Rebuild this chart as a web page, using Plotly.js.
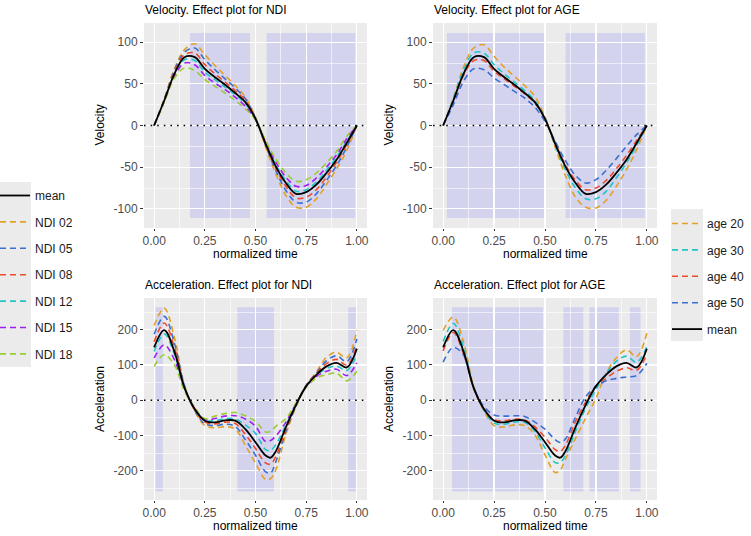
<!DOCTYPE html>
<html>
<head>
<meta charset="utf-8">
<script src="https://cdn.plot.ly/plotly-3.0.1.min.js"></script>
<style>
  html, body { margin: 0; padding: 0; background: #ffffff; }
  #chart { width: 751px; height: 536px; }
</style>
</head>
<body>
<div id="chart"></div>
<script>
// ---- sampling grids (normalized time) ----
const velTime = [0, 0.05, 0.1, 0.15, 0.2, 0.25, 0.3, 0.35, 0.4, 0.45, 0.5,
                 0.55, 0.6, 0.65, 0.7, 0.75, 0.8, 0.85, 0.9, 0.95, 1];
const accTime = [0, 0.05, 0.1, 0.15, 0.2, 0.25, 0.3, 0.35, 0.4, 0.45, 0.5,
                 0.55, 0.575, 0.6, 0.65, 0.7, 0.75, 0.8, 0.85, 0.9, 0.95, 1];

// ---- velocity: mean curve and NDI effect curves ----
const velMean  = [0, 30, 62, 82, 82, 68, 58, 49, 39, 28, 8, -22, -49, -69, -82, -80, -71, -57, -41, -21, 0];
const velNdi02 = [0, 32, 68, 91, 98, 85, 72, 60, 48, 34, 10, -26, -58, -84, -98, -98, -88, -71, -52, -30, 0];
const velNdi05 = [0, 31, 66, 88, 93, 79, 67, 56, 45, 32, 9, -24, -54, -78, -92, -92, -82, -66, -48, -26, 0];
const velNdi08 = [0, 31, 64, 85, 87, 73, 62, 52, 42, 30, 8, -23, -51, -73, -87, -86, -77, -62, -44, -23, 0];
const velNdi12 = [0, 30, 61, 79, 78, 64, 55, 46, 37, 26, 8, -21, -47, -66, -79, -77, -68, -54, -38, -19, 0];
const velNdi15 = [0, 29, 59, 75, 73, 60, 51, 43, 34, 23, 7, -20, -44, -62, -73, -72, -63, -50, -35, -16, 0];
const velNdi18 = [0, 28, 57, 69, 66, 55, 47, 39, 30, 20, 7, -18, -40, -57, -67, -65, -57, -45, -31, -13, 0];

// ---- velocity: AGE effect curves ----
const velAge20 = [0, 33, 70, 93, 97, 83, 70, 59, 48, 35, 10, -26, -60, -86, -98, -99, -90, -73, -53, -29, 0];
const velAge30 = [0, 32, 66, 87, 87, 73, 62, 52, 42, 30, 9, -24, -53, -75, -88, -88, -79, -63, -45, -24, 0];
const velAge40 = [0, 29, 60, 78, 78, 65, 56, 47, 38, 27, 8, -21, -47, -66, -77, -75, -66, -52, -36, -18, 0];
const velAge50 = [0, 25, 53, 68, 67, 57, 49, 41, 33, 22, 5, -19, -42, -60, -69, -65, -54, -40, -25, -11, 0];

// ---- acceleration: mean curve and NDI effect curves ----
const accMean  = [150, 199, 138, 35, -25, -58, -63, -57, -58, -82, -119, -157, -163, -145, -76, -13, 40, 72, 96, 106, 93, 146];
const accNdi02 = [212, 261, 178, 42, -30, -72, -78, -75, -82, -128, -178, -225, -222, -198, -96, -18, 42, 80, 122, 136, 120, 200];
const accNdi05 = [187, 238, 162, 40, -28, -67, -72, -68, -74, -112, -156, -203, -206, -175, -88, -16, 42, 77, 112, 126, 110, 174];
const accNdi08 = [166, 219, 150, 37, -27, -62, -67, -62, -66, -97, -137, -178, -181, -160, -82, -14, 41, 75, 104, 116, 100, 155];
const accNdi12 = [138, 188, 130, 33, -24, -57, -58, -52, -53, -70, -94, -140, -142, -126, -70, -12, 40, 70, 90, 97, 84, 130];
const accNdi15 = [120, 157, 115, 30, -22, -55, -52, -45, -44, -53, -74, -117, -114, -102, -62, -10, 38, 67, 82, 88, 70, 106];
const accNdi18 = [96, 129, 100, 26, -20, -52, -45, -38, -35, -44, -60, -90, -88, -74, -52, -8, 36, 63, 72, 77, 55, 82];

// ---- acceleration: AGE effect curves ----
const accAge20 = [198, 236, 165, 38, -30, -72, -76, -70, -72, -98, -155, -205, -198, -168, -108, -50, 5, 77, 120, 143, 124, 190];
const accAge30 = [167, 218, 150, 36, -28, -65, -68, -62, -63, -88, -135, -177, -176, -157, -88, -22, 30, 76, 110, 125, 108, 152];
const accAge40 = [140, 192, 132, 33, -25, -55, -58, -54, -56, -75, -105, -140, -145, -128, -60, -5, 40, 62, 82, 92, 85, 130];
const accAge50 = [108, 150, 128, 35, -18, -42, -45, -44, -46, -62, -82, -112, -120, -110, -48, 10, 38, 55, 62, 66, 70, 105];

// ---- intervals where the effect is significant ----
const velNdiBands = [[0.177, 0.473], [0.555, 0.992]];
const velAgeBands = [[0.018, 0.503], [0.601, 0.990]];
const accNdiBands = [[0.007, 0.043], [0.410, 0.591], [0.957, 0.998]];
const accAgeBands = [[0.043, 0.490], [0.590, 0.688], [0.718, 0.862], [0.917, 0.969]];
const velBandSpan = [-111, 111];
const accBandSpan = [-259, 264];

// ---- labels ----
const ndiLabels = ['NDI 02', 'NDI 05', 'NDI 08', 'NDI 12', 'NDI 15', 'NDI 18'];
const ageLabels = ['age 20', 'age 30', 'age 40', 'age 50'];
const meanLabel = 'mean';
const panelTitles = ['Velocity. Effect plot for NDI', 'Velocity. Effect plot for AGE',
                     'Acceleration. Effect plot for NDI', 'Acceleration. Effect plot for AGE'];
const xTitle = 'normalized time';
const yTitles = ['Velocity', 'Acceleration'];
const timeTicks = [0, 0.25, 0.5, 0.75, 1];
const timeTickText = ['0.00', '0.25', '0.50', '0.75', '1.00'];
const velTicks = [-100, -50, 0, 50, 100];
const velTickText = ['-100', '-50', '0', '50', '100'];
const accTicks = [-200, -100, 0, 100, 200];
const accTickText = ['-200', '-100', '0', '100', '200'];

// ---- styling ----
const FONT = 'Liberation Sans, Arial, Helvetica, sans-serif';
const ndiColors = ['#E3A127', '#3B6FD1', '#EE4B2B', '#22C5C5', '#A020F0', '#9ACD32'];
const ageColors = ['#E3A127', '#22C5C5', '#EE4B2B', '#3B6FD1'];
const DASH = '6px,4px';
const W = 751, H = 536;
const fx = p => p / W;
const fy = p => 1 - p / H;

const traces = [];
function addPanel(n, time, series, labels, colors, mean, legendId, meanRank, show) {
  const xa = n === 1 ? 'x' : 'x' + n;
  const ya = n === 1 ? 'y' : 'y' + n;
  series.forEach((ys, i) => {
    traces.push({
      type: 'scatter', mode: 'lines', x: time, y: ys, xaxis: xa, yaxis: ya,
      name: labels[i], legend: legendId, legendgroup: legendId + labels[i],
      legendrank: i + 2, showlegend: show,
      line: { color: colors[i], width: 1.6, dash: DASH, shape: 'spline', smoothing: 1 },
      hoverinfo: 'skip'
    });
  });
  traces.push({
    type: 'scatter', mode: 'lines', x: time, y: mean, xaxis: xa, yaxis: ya,
    name: meanLabel, legend: legendId, legendgroup: legendId + meanLabel,
    legendrank: meanRank, showlegend: show,
    line: { color: '#000000', width: 1.8, shape: 'spline', smoothing: 1 },
    hoverinfo: 'skip'
  });
}

addPanel(1, velTime, [velNdi02, velNdi05, velNdi08, velNdi12, velNdi15, velNdi18],
         ndiLabels, ndiColors, velMean, 'legend', 1, true);
addPanel(2, velTime, [velAge20, velAge30, velAge40, velAge50],
         ageLabels, ageColors, velMean, 'legend2', 10, true);
addPanel(3, accTime, [accNdi02, accNdi05, accNdi08, accNdi12, accNdi15, accNdi18],
         ndiLabels, ndiColors, accMean, 'legend', 1, false);
addPanel(4, accTime, [accAge20, accAge30, accAge40, accAge50],
         ageLabels, ageColors, accMean, 'legend2', 10, false);

// panel boxes in pixels: [left, right, top, bottom]
const boxes = [[144, 367, 23, 228], [433, 657, 23, 228], [144, 367, 298, 500], [433, 657, 298, 500]];

function xAxis(b, anchor) {
  return {
    domain: [fx(b[0]), fx(b[1])], anchor: anchor, range: [-0.05, 1.05],
    tickmode: 'array', tickvals: timeTicks, ticktext: timeTickText,
    ticks: 'outside', ticklen: 2, tickwidth: 1, tickcolor: '#333333',
    tickfont: { family: FONT, size: 12, color: '#4D4D4D' },
    showgrid: true, gridcolor: '#FFFFFF', gridwidth: 1.2,
    minor: { tickmode: 'array', tickvals: [0.125, 0.375, 0.625, 0.875], showgrid: true,
             gridcolor: '#FFFFFF', gridwidth: 0.6, ticks: '' },
    zeroline: false, showline: false, fixedrange: true
  };
}
function yAxis(b, anchor, range, tv, tt, minorVals) {
  return {
    domain: [fy(b[3]), fy(b[2])], anchor: anchor, range: range,
    tickmode: 'array', tickvals: tv, ticktext: tt,
    ticks: 'outside', ticklen: 3, tickwidth: 1, tickcolor: '#333333',
    tickfont: { family: FONT, size: 12, color: '#4D4D4D' },
    showgrid: true, gridcolor: '#FFFFFF', gridwidth: 1.2,
    minor: { tickmode: 'array', tickvals: minorVals, showgrid: true,
             gridcolor: '#FFFFFF', gridwidth: 0.6, ticks: '' },
    zeroline: false, showline: false, fixedrange: true
  };
}

const velRange = [-123, 123];
const accRange = [-283, 290];

const shapes = [];
function addBands(n, bands, span) {
  const xa = n === 1 ? 'x' : 'x' + n;
  const ya = n === 1 ? 'y' : 'y' + n;
  bands.forEach(b => shapes.push({
    type: 'rect', xref: xa, yref: ya, x0: b[0], x1: b[1], y0: span[0], y1: span[1],
    fillcolor: 'rgba(0,0,255,0.1)', line: { width: 0 }, layer: 'below'
  }));
  shapes.push({
    type: 'line', xref: xa + ' domain', yref: ya, x0: 0, x1: 1, y0: 0, y1: 0,
    line: { color: '#000000', width: 1.6, dash: '1.6px,5px' }, layer: 'above'
  });
}
addBands(1, velNdiBands, velBandSpan);
addBands(2, velAgeBands, velBandSpan);
addBands(3, accNdiBands, accBandSpan);
addBands(4, accAgeBands, accBandSpan);

// grey legend key columns
shapes.push({ type: 'rect', xref: 'paper', yref: 'paper', x0: fx(0), x1: fx(31), y0: fy(367), y1: fy(182),
              fillcolor: '#EBEBEB', line: { width: 0 }, layer: 'below' });
shapes.push({ type: 'rect', xref: 'paper', yref: 'paper', x0: fx(671), x1: fx(703), y0: fy(341), y1: fy(209),
              fillcolor: '#EBEBEB', line: { width: 0 }, layer: 'below' });

const annotations = [];
boxes.forEach((b, i) => {
  annotations.push({
    text: panelTitles[i], xref: 'paper', yref: 'paper', x: fx(b[0] - 1), y: fy(b[2] - 13),
    xanchor: 'left', yanchor: 'middle', showarrow: false,
    font: { family: FONT, size: 12, color: '#000000' }
  });
  annotations.push({
    text: xTitle, xref: 'paper', yref: 'paper', x: fx((b[0] + b[1]) / 2), y: fy(b[3] + 26),
    xanchor: 'center', yanchor: 'middle', showarrow: false,
    font: { family: FONT, size: 12, color: '#000000' }
  });
  annotations.push({
    text: yTitles[i < 2 ? 0 : 1], xref: 'paper', yref: 'paper', x: fx(b[0] - 44), y: fy((b[2] + b[3]) / 2),
    xanchor: 'center', yanchor: 'middle', textangle: -90, showarrow: false,
    font: { family: FONT, size: 12, color: '#000000' }
  });
});

const legendBase = {
  xanchor: 'left', yanchor: 'top', bgcolor: 'rgba(0,0,0,0)', borderwidth: 0,
  font: { family: FONT, size: 12, color: '#1A1A1A' },
  traceorder: 'grouped', tracegroupgap: 7.4, itemwidth: 30, orientation: 'v',
  indentation: -5
};

const layout = {
  width: W, height: H,
  margin: { l: 0, r: 0, t: 0, b: 0, pad: 0 },
  paper_bgcolor: '#FFFFFF', plot_bgcolor: '#EBEBEB',
  font: { family: FONT, size: 12, color: '#000000' },
  showlegend: true,
  legend: Object.assign({}, legendBase, { x: fx(0), y: fy(181) }),
  legend2: Object.assign({}, legendBase, { x: fx(672), y: fy(209) }),
  xaxis: xAxis(boxes[0], 'y'),
  yaxis: yAxis(boxes[0], 'x', velRange, velTicks, velTickText, [-75, -25, 25, 75]),
  xaxis2: xAxis(boxes[1], 'y2'),
  yaxis2: yAxis(boxes[1], 'x2', velRange, velTicks, velTickText, [-75, -25, 25, 75]),
  xaxis3: xAxis(boxes[2], 'y3'),
  yaxis3: yAxis(boxes[2], 'x3', accRange, accTicks, accTickText, [-250, -150, -50, 50, 150, 250]),
  xaxis4: xAxis(boxes[3], 'y4'),
  yaxis4: yAxis(boxes[3], 'x4', accRange, accTicks, accTickText, [-250, -150, -50, 50, 150, 250]),
  shapes: shapes,
  annotations: annotations
};

Plotly.newPlot('chart', traces, layout, { staticPlot: true, displayModeBar: false });
</script>
</body>
</html>
